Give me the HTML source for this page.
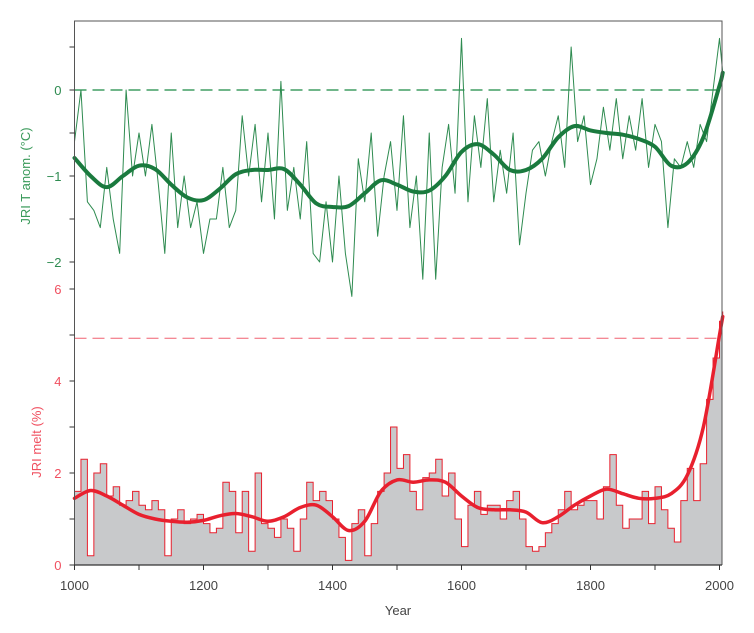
<!DOCTYPE html>
<html><head><meta charset="utf-8">
<style>
html,body{margin:0;padding:0;background:#fff;}
svg{display:block;font-family:"Liberation Sans",sans-serif;}
</style></head>
<body>
<svg id="chart" width="754" height="633" viewBox="0 0 754 633" xmlns="http://www.w3.org/2000/svg">
  <g id="g-red"></g>
  <g id="g-green"></g>
  <g id="g-axes"></g>
</svg>
<script>
const tYears = [1000,1010,1020,1030,1040,1050,1060,1070,1080,1090,1100,1110,1120,1130,1140,1150,1160,1170,1180,1190,1200,1210,1220,1230,1240,1250,1260,1270,1280,1290,1300,1310,1320,1330,1340,1350,1360,1370,1380,1390,1400,1410,1420,1430,1440,1450,1460,1470,1480,1490,1500,1510,1520,1530,1540,1550,1560,1570,1580,1590,1600,1610,1620,1630,1640,1650,1660,1670,1680,1690,1700,1710,1720,1730,1740,1750,1760,1770,1780,1790,1800,1810,1820,1830,1840,1850,1860,1870,1880,1890,1900,1910,1920,1930,1940,1950,1960,1970,1980,1990,2000,2005];
const tempRaw = [-0.6,0.0,-1.3,-1.4,-1.6,-0.9,-1.5,-1.9,0.0,-1.0,-0.5,-1.0,-0.4,-1.1,-1.9,-0.5,-1.6,-1.0,-1.6,-1.3,-1.9,-1.5,-1.5,-0.9,-1.6,-1.4,-0.3,-1.0,-0.4,-1.3,-0.5,-1.5,0.1,-1.4,-0.9,-1.5,-0.6,-1.9,-2.0,-1.3,-2.0,-1.0,-1.9,-2.4,-0.8,-1.3,-0.5,-1.7,-1.0,-0.6,-1.4,-0.3,-1.6,-1.0,-2.2,-0.5,-2.2,-0.9,-0.4,-1.2,0.6,-1.3,-0.3,-0.9,-0.1,-1.3,-0.7,-1.2,-0.5,-1.8,-1.2,-0.7,-0.6,-1.0,-0.6,-0.3,-0.9,0.5,-0.6,-0.3,-1.1,-0.8,-0.2,-0.7,-0.1,-0.8,-0.3,-0.7,-0.1,-0.9,-0.4,-0.6,-1.6,-0.8,-0.9,-0.6,-0.9,-0.4,-0.6,0.0,0.6,0.2];
const sYears = [1000,1025,1050,1075,1100,1125,1150,1175,1200,1225,1250,1275,1300,1325,1350,1375,1400,1425,1450,1475,1500,1525,1550,1575,1600,1625,1650,1675,1700,1725,1750,1775,1800,1825,1850,1875,1900,1925,1950,1975,2000,2005];
const tempSmooth = [-0.79,-1.0,-1.13,-1.0,-0.88,-0.92,-1.1,-1.25,-1.28,-1.15,-0.98,-0.93,-0.93,-0.92,-1.1,-1.32,-1.36,-1.35,-1.2,-1.05,-1.1,-1.18,-1.17,-1.0,-0.72,-0.63,-0.75,-0.93,-0.93,-0.8,-0.55,-0.42,-0.47,-0.5,-0.52,-0.57,-0.66,-0.88,-0.85,-0.55,0.05,0.2];
const meltRaw = [1.6,2.3,0.2,2.0,2.2,1.5,1.7,1.3,1.4,1.6,1.3,1.2,1.4,1.2,0.2,1.0,1.2,0.9,1.0,1.1,0.9,0.7,0.8,1.8,1.6,0.7,1.6,0.3,2.0,0.9,0.8,0.6,1.0,0.8,0.3,1.0,1.8,1.4,1.6,1.4,1.0,0.6,0.1,0.9,1.2,0.2,0.9,1.6,2.0,3.0,2.1,2.4,1.6,1.2,1.9,2.0,2.3,1.5,2.0,1.0,0.4,1.3,1.6,1.1,1.3,1.3,1.0,1.4,1.6,1.0,0.4,0.3,0.4,0.7,0.9,1.2,1.6,1.2,1.3,1.4,1.4,1.0,1.7,2.4,1.3,0.8,1.0,1.0,1.6,0.9,1.7,1.2,0.8,0.5,1.4,2.1,1.4,2.2,3.6,4.5,5.3,5.5];
const meltSmooth = [1.45,1.62,1.5,1.3,1.1,1.0,0.95,0.93,0.97,1.07,1.12,1.05,0.95,1.05,1.25,1.3,1.05,0.75,0.95,1.6,1.85,1.8,1.85,1.8,1.5,1.25,1.2,1.2,1.15,0.92,1.05,1.3,1.5,1.65,1.55,1.45,1.45,1.55,1.95,3.0,5.0,5.4];
const xTicks = [1000,1200,1400,1600,1800,2000];
const tTicks = [0,-1,-2];
const mTicks = [0,2,4,6];

const NS="http://www.w3.org/2000/svg";
const L=74.5,R=722,T=21,B=565;
const x = y => L + (y-1000)*(719.5-74.5)/1000;
const yT = v => 90 - v*86;
const yM = v => 565 - v*46;
function mk(tag,attrs,parent){const e=document.createElementNS(NS,tag);for(const k in attrs)e.setAttribute(k,attrs[k]);parent.appendChild(e);return e;}
function smoothPath(xs,ys){
  let d=`M${xs[0]},${ys[0]}`;
  for(let i=0;i<xs.length-1;i++){
    const p0=[xs[Math.max(0,i-1)],ys[Math.max(0,i-1)]],p1=[xs[i],ys[i]],p2=[xs[i+1],ys[i+1]],p3=[xs[Math.min(xs.length-1,i+2)],ys[Math.min(xs.length-1,i+2)]];
    const c1=[p1[0]+(p2[0]-p0[0])/6,p1[1]+(p2[1]-p0[1])/6],c2=[p2[0]-(p3[0]-p1[0])/6,p2[1]-(p3[1]-p1[1])/6];
    d+=`C${c1[0]},${c1[1]} ${c2[0]},${c2[1]} ${p2[0]},${p2[1]}`;
  }
  return d;
}
const gR=document.getElementById('g-red'),gG=document.getElementById('g-green'),gA=document.getElementById('g-axes');

// red step area
let sd=`M${x(tYears[0])},${yM(0)}`;
for(let i=0;i<tYears.length;i++){
  const x0=x(tYears[i]), x1=i<tYears.length-1?x(tYears[i+1]):R;
  sd+=`L${x0},${yM(meltRaw[i])}L${x1},${yM(meltRaw[i])}`;
}
const area=mk('path',{d:sd+`L${R},${yM(0)}Z`,fill:'#c8c9cb',stroke:'none'},gR);


let ld=''; for(let i=0;i<tYears.length;i++){const x0=x(tYears[i]),x1=i<tYears.length-1?x(tYears[i+1]):R;ld+=(i?'L':'M')+`${x0},${yM(meltRaw[i])}L${x1},${yM(meltRaw[i])}`;}
const ml=mk('path',{d:ld,fill:'none',stroke:'#e8202e','stroke-width':1},gR);


const rd=mk('line',{x1:L,x2:R,y1:yM(4.93),y2:yM(4.93),stroke:'#f06070','stroke-width':1,'stroke-dasharray':'12,6'},gR);


const ms=mk('path',{d:smoothPath(sYears.map(x),meltSmooth.map(yM)),fill:'none',stroke:'#e8202e','stroke-width':3.5,'stroke-linecap':'round'},gR);



// green
const gd=mk('line',{x1:L,x2:R,y1:yT(0),y2:yT(0),stroke:'#1a8a45','stroke-width':1.3,'stroke-dasharray':'12,6'},gG);


const tr=mk('path',{d:tYears.map((v,i)=>(i?'L':'M')+x(v)+','+yT(tempRaw[i])).join(''),fill:'none',stroke:'#2e8b50','stroke-width':1,'stroke-linejoin':'round'},gG);


const ts=mk('path',{d:smoothPath(sYears.map(x),tempSmooth.map(yT)),fill:'none',stroke:'#1a7a3e','stroke-width':4,'stroke-linecap':'round'},gG);



// frame
const fr=mk('path',{d:`M${L},${B}L${L},${T}L${R},${T}L${R},${B}`,fill:'none',stroke:'#555','stroke-width':1},gA);


const xl=mk('line',{x1:L,x2:R,y1:B,y2:B,stroke:'#333','stroke-width':1.2},gA);


for(let yr=1000;yr<=2000;yr+=100){
  const t=mk('line',{x1:x(yr),x2:x(yr),y1:B,y2:B+5,stroke:'#333'},gA);
  
  
}
xTicks.forEach(v=>{
  const t=mk('text',{x:x(v),y:590,'text-anchor':'middle','font-size':13,fill:'#444'},gA);t.textContent=v;
  
  
});
const xt=mk('text',{x:398,y:615,'text-anchor':'middle','font-size':13,fill:'#444'},gA);xt.textContent='Year';


for(let v=0.5;v>=-2;v-=0.5){
  const t=mk('line',{x1:L-5,x2:L,y1:yT(v),y2:yT(v),stroke:'#333'},gA);
  
  
}
tTicks.forEach(v=>{
  const t=mk('text',{x:L-13,y:yT(v)+5,'text-anchor':'end','font-size':13,fill:'#2e8b50'},gA);t.textContent=v===0?'0':'\u2212'+Math.abs(v);
  
  
});
for(let v=0;v<=5;v++){
  const t=mk('line',{x1:L-5,x2:L,y1:yM(v),y2:yM(v),stroke:'#333'},gA);
  
  
}
mk('line',{x1:L-5,x2:L,y1:yM(6),y2:yM(6),stroke:'#333'},gA);
mTicks.forEach(v=>{
  const t=mk('text',{x:L-13,y:yM(v)+5,'text-anchor':'end','font-size':13,fill:'#f05060'},gA);t.textContent=v;
  
  
});
const ty=mk('text',{x:0,y:0,transform:'translate(30,176) rotate(-90)','text-anchor':'middle','font-size':13,fill:'#3a9a5a'},gA);ty.textContent='JRI T anom. (\u00B0C)';


const my=mk('text',{x:0,y:0,transform:'translate(41,442) rotate(-90)','text-anchor':'middle','font-size':13,fill:'#f05060'},gA);my.textContent='JRI melt (%)';


</script>
</body></html>
